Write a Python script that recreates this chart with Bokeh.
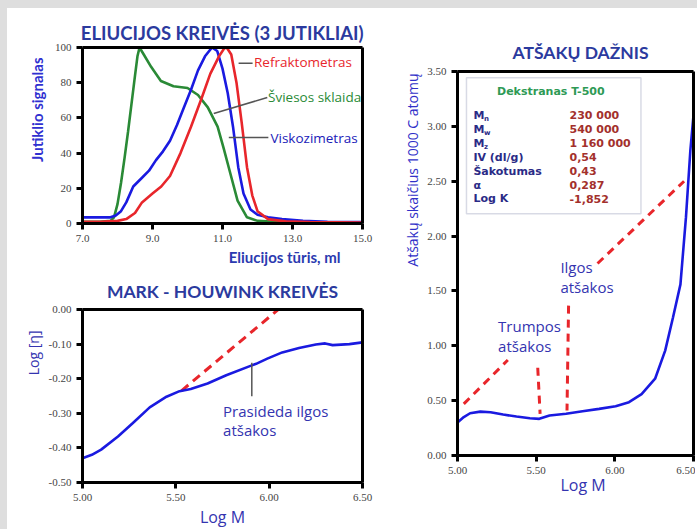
import math
from bokeh.plotting import figure
from bokeh.models import (Range1d, FixedTicker, Label, BoxAnnotation,
                          ColumnDataSource, Title, LinearAxis)
from bokeh.layouts import row, column
from bokeh.embed import file_html
from bokeh.resources import INLINE
from bokeh.core.properties import value

# ---------------- DATA ----------------
# Chart 1: elution curves (3 detectors)
elu_xticks = [7, 9, 11, 13, 15]
elu_xtick_labels = ["7.0", "9.0", "11.0", "13.0", "15.0"]
elu_yticks = [0, 20, 40, 60, 80, 100]
elu_ytick_labels = ["0", "20", "40", "60", "80", "100"]

green_x = [7.0, 7.5, 7.8, 7.9, 8.0, 8.1, 8.2, 8.3, 8.4, 8.5, 8.57, 8.63, 8.75,
           8.96, 9.24, 9.6, 10.0, 10.3, 10.58, 10.86, 11.03, 11.23, 11.43,
           11.7, 12.0, 12.5, 13.5, 15.0]
green_y = [1.0, 1.0, 1.5, 3.5, 11, 23, 37, 52, 68, 84, 95, 100, 96,
           89, 81, 78, 77, 73, 66, 55, 43, 28, 13,
           3.5, 1.5, 1.0, 0.8, 0.6]

blue_x = [7.0, 7.5, 7.8, 7.95, 8.1, 8.25, 8.45, 8.7, 8.9, 9.1, 9.3, 9.5, 9.7,
          9.9, 10.1, 10.3, 10.5, 10.7, 10.85, 11.0, 11.15, 11.3, 11.45, 11.6,
          11.8, 12.0, 12.3, 12.7, 13.3, 14.0, 15.0]
blue_y = [3.5, 3.5, 3.5, 4.5, 7, 12, 21, 26, 30, 36, 41, 47, 56,
          66, 76, 87, 95, 100, 98, 88, 74, 55, 32, 17,
          8, 5, 3.5, 2.5, 1.5, 1.0, 0.8]

red_x = [7.0, 7.5, 8.0, 8.25, 8.5, 8.7, 9.0, 9.25, 9.5, 9.8, 10.1, 10.4,
         10.65, 10.9, 11.05, 11.12, 11.25, 11.4, 11.55, 11.7, 11.85, 12.0,
         12.3, 12.8, 13.5, 15.0]
red_y = [1.0, 1.0, 1.5, 2.5, 6, 12, 17, 21, 27, 40, 55, 71,
         85, 95, 99.5, 100, 96, 80, 57, 32, 16, 7,
         2.5, 1.2, 0.8, 0.5]

# Chart 2: Mark-Houwink
mh_xticks = [5.0, 5.5, 6.0, 6.5]
mh_xtick_labels = ["5.00", "5.50", "6.00", "6.50"]
mh_yticks = [0.0, -0.1, -0.2, -0.3, -0.4, -0.5]
mh_ytick_labels = ["0.00", "-0.10", "-0.20", "-0.30", "-0.40", "-0.50"]
mh_x = [5.0, 5.05, 5.1, 5.19, 5.27, 5.36, 5.45, 5.52, 5.58, 5.67, 5.77, 5.9,
        5.93, 5.99, 6.07, 6.16, 6.25, 6.3, 6.34, 6.43, 6.5]
mh_y = [-0.43, -0.42, -0.405, -0.367, -0.328, -0.283, -0.252, -0.236, -0.23,
        -0.214, -0.19, -0.163, -0.157, -0.142, -0.124, -0.111, -0.101, -0.098,
        -0.103, -0.100, -0.095]
mh_lin_x = [5.53, 6.06]
mh_lin_y = [-0.235, 0.005]

# Chart 3: branching frequency
br_xticks = [5.0, 5.5, 6.0, 6.5]
br_xtick_labels = ["5.00", "5.50", "6.00", "6.50"]
br_yticks = [0.0, 0.5, 1.0, 1.5, 2.0, 2.5, 3.0, 3.5]
br_ytick_labels = ["0.00", "0.50", "1.00", "1.50", "2.00", "2.50", "3.00", "3.50"]
br_x = [5.0, 5.04, 5.08, 5.145, 5.21, 5.29, 5.375, 5.46, 5.52, 5.585, 5.69,
        5.795, 5.9, 6.005, 6.09, 6.17, 6.256, 6.32, 6.37, 6.417, 6.452, 6.48,
        6.5]
br_y = [0.30, 0.35, 0.385, 0.40, 0.394, 0.373, 0.355, 0.34, 0.334, 0.364,
        0.38, 0.404, 0.425, 0.449, 0.486, 0.56, 0.70, 0.956, 1.26, 1.56, 2.17,
        2.78, 3.1]
br_short_x = [5.04, 5.32]
br_short_y = [0.47, 0.87]
br_long_x = [5.89, 6.44]
br_long_y = [1.75, 2.50]
br_v1_x = [5.51, 5.525]
br_v1_y = [0.80, 0.38]
br_v2_x = [5.706, 5.696]
br_v2_y = [1.366, 0.41]

info_title = "Dekstranas T-500"
info_names = ["M", "M", "M", "IV (dl/g)", "Šakotumas", "α", "Log K"]
info_subs = ["n", "w", "z"]
info_values = ["230 000", "540 000", "1 160 000", "0,54", "0,43", "0,287", "-1,852"]

# ---------------- STYLE ----------------
TITLE_FONT = "Lato"
TITLE_COLOR = "#2b3a9e"
BLUE = "#1a1ae0"
RED = "#e8262b"
GREEN = "#2a8a36"
TEXT_BLUE = "#3434b0"


def frame_axis(p, side):
    ax = LinearAxis(ticker=FixedTicker(ticks=[]), axis_line_width=3,
                    axis_line_color="black", major_tick_line_color=None,
                    minor_tick_line_color=None, major_label_standoff=0,
                    major_tick_out=0, major_tick_in=0,
                    major_label_text_font_size="0px")
    p.add_layout(ax, side)


def style(p, xticks, xlabels, yticks, ylabels):
    p.outline_line_color = None
    p.grid.visible = False
    p.background_fill_color = "white"
    p.border_fill_color = None
    p.xaxis.ticker = FixedTicker(ticks=xticks)
    p.yaxis.ticker = FixedTicker(ticks=yticks)
    p.xaxis.major_label_overrides = {t: l for t, l in zip(xticks, xlabels)}
    p.yaxis.major_label_overrides = {t: l for t, l in zip(yticks, ylabels)}
    for ax in p.axis:
        ax.axis_line_width = 3
        ax.axis_line_color = "black"
        ax.major_tick_line_width = 3
        ax.major_tick_line_color = "black"
        ax.major_tick_out = 6
        ax.major_tick_in = 0
        ax.minor_tick_line_color = None
        ax.major_label_text_font = "Liberation Serif"
        ax.major_label_text_font_size = "11px"
        ax.major_label_text_color = "#444444"
        ax.major_label_standoff = 5
    frame_axis(p, "above")
    frame_axis(p, "right")


def set_title(p, text, size="18px", align="center", offset=0, standoff=4):
    p.title.text = text
    p.title.align = align
    p.title.offset = offset
    p.title.standoff = standoff
    p.title.text_font = TITLE_FONT
    p.title.text_font_size = size
    p.title.text_font_style = "bold"
    p.title.text_color = TITLE_COLOR


def side_title(p, side, text, size, color, font="Open Sans", style_="normal",
               align="center", offset=0, standoff=4):
    p.add_layout(Title(text=text, align=align, offset=offset, standoff=standoff,
                       text_font=font, text_font_size=size, text_color=color,
                       text_font_style=style_), side)


def lab(p, x, y, text, size, color, font="Open Sans", style_="normal",
        align="left"):
    p.add_layout(Label(x=x, y=y, text=text, text_font=font,
                       text_font_size=size, text_color=color,
                       text_font_style=style_, text_align=align,
                       text_baseline="middle"))


# ---------------- CHART 1 ----------------
p1 = figure(width=395, height=270, output_backend="svg", toolbar_location=None,
            x_range=Range1d(7, 15), y_range=Range1d(0, 100),
            min_border_left=81, min_border_right=33, min_border_top=47,
            min_border_bottom=47)
style(p1, elu_xticks, elu_xtick_labels, elu_yticks, elu_ytick_labels)
set_title(p1, "ELIUCIJOS KREIVĖS (3 JUTIKLIAI)", size="18.5px", standoff=7)
side_title(p1, "left", "Jutiklio signalas", "15px", "#3030d0", font=TITLE_FONT,
           style_="bold", align="right", offset=10, standoff=12)
side_title(p1, "below", "Eliucijos tūris, ml", "15px", "#2b3ab0",
           font=TITLE_FONT, style_="bold", align="right", offset=22, standoff=2)
p1.line(green_x, green_y, line_color=GREEN, line_width=2.6)
p1.line(blue_x, blue_y, line_color=BLUE, line_width=2.6)
p1.line(red_x, red_y, line_color=RED, line_width=2.6)
# leader lines
p1.line([11.46, 11.86], [91, 91], line_color="#555555", line_width=1.5)
p1.line([10.75, 12.28], [62.5, 71.6], line_color="#555555", line_width=1.5)
p1.line([11.18, 12.31], [48.9, 48.9], line_color="#555555", line_width=1.5)
lab(p1, 11.9, 91.5, "Refraktometras", "13.5px", RED)
lab(p1, 12.3, 72, "Šviesos sklaida", "13.5px", GREEN)
lab(p1, 12.37, 48.6, "Viskozimetras", "13.5px", "#2020b8")

# ---------------- CHART 2 ----------------
p2 = figure(width=395, height=257, output_backend="svg", toolbar_location=None,
            x_range=Range1d(5.0, 6.5), y_range=Range1d(-0.5, 0.0),
            min_border_left=82, min_border_right=32, min_border_top=39,
            min_border_bottom=43)
style(p2, mh_xticks, mh_xtick_labels, mh_yticks, mh_ytick_labels)
set_title(p2, "MARK - HOUWINK KREIVĖS", size="17.5px", standoff=16)
side_title(p2, "left", "Log [η]", "14px", TEXT_BLUE, align="right", offset=21,
           standoff=6)
side_title(p2, "below", "Log M", "16px", TEXT_BLUE, standoff=0)
p2.line(mh_lin_x, mh_lin_y, line_color=RED, line_width=3, line_dash="9 6")
p2.line(mh_x, mh_y, line_color=BLUE, line_width=2.6)
p2.line([5.907, 5.907], [-0.154, -0.251], line_color="#555555", line_width=1.5)
lab(p2, 5.753, -0.292, "Prasideda ilgos", "15px", TEXT_BLUE)
lab(p2, 5.753, -0.349, "atšakos", "15px", TEXT_BLUE)

# ---------------- CHART 3 ----------------
p3 = figure(width=300, height=527, output_backend="svg", toolbar_location=None,
            x_range=Range1d(5.0, 6.5), y_range=Range1d(0.0, 3.5),
            min_border_left=62, min_border_right=2, min_border_top=71,
            min_border_bottom=72)
style(p3, br_xticks, br_xtick_labels, br_yticks, br_ytick_labels)
set_title(p3, "ATŠAKŲ DAŽNIS", size="17.5px", align="left", offset=55,
          standoff=18)
side_title(p3, "left", "Atšakų skaičius 1000 C atomų", "14px", "#3030c8",
           align="right", offset=2, standoff=5)
side_title(p3, "below", "Log M", "16px", TEXT_BLUE, align="left", offset=103,
           standoff=-9)
for xs, ys in [(br_short_x, br_short_y), (br_long_x, br_long_y),
               (br_v1_x, br_v1_y), (br_v2_x, br_v2_y)]:
    p3.line(xs, ys, line_color=RED, line_width=3, line_dash="8 6")
p3.line(br_x, br_y, line_color=BLUE, line_width=2.6)

# info box
p3.add_layout(BoxAnnotation(left=5.057, right=6.166, top=3.443, bottom=2.204,
                            fill_color="white", fill_alpha=1.0,
                            line_color="#7d86a8", line_width=1.5,
                            level="underlay"))
row_top, row_step = 3.097, 0.1265
name_x, value_x = 5.101, 5.712
rows_y = [row_top - i * row_step for i in range(len(info_names))]
src_names = ColumnDataSource(dict(x=[name_x] * len(info_names), y=rows_y,
                                  t=info_names))
src_vals = ColumnDataSource(dict(x=[value_x] * len(info_values), y=rows_y,
                                 t=info_values))
src_subs = ColumnDataSource(dict(x=[name_x + 0.068] * len(info_subs),
                                 y=[rows_y[i] - 0.03 for i in range(len(info_subs))],
                                 t=info_subs))
p3.text(x="x", y="y", text="t", source=src_names, text_font=value("DejaVu Sans"),
        text_font_size="11px", text_font_style="bold", text_color="#2a2a86",
        text_baseline="middle", text_align="left")
p3.text(x="x", y="y", text="t", source=src_subs, text_font=value("DejaVu Sans"),
        text_font_size="7px", text_font_style="bold", text_color="#2a2a86",
        text_baseline="middle", text_align="left")
p3.text(x="x", y="y", text="t", source=src_vals, text_font=value("DejaVu Sans"),
        text_font_size="11px", text_font_style="bold", text_color="#a3302c",
        text_baseline="middle", text_align="left")
lab(p3, 5.593, 3.315, info_title, "11px", "#2e9a55", font="DejaVu Sans",
    style_="bold", align="center")

lab(p3, 5.258, 1.184, "Trumpos", "15px", TEXT_BLUE)
lab(p3, 5.258, 1.0, "atšakos", "15px", TEXT_BLUE)
lab(p3, 5.654, 1.72, "Ilgos", "15px", TEXT_BLUE)
lab(p3, 5.654, 1.54, "atšakos", "15px", TEXT_BLUE)

layout = row(column(p1, p2), p3)

html = file_html(layout, INLINE, title="Dekstranas")
css = ("<style>html{background:linear-gradient(#dedede 8px, transparent 8px),"
       "linear-gradient(to right, #dedede 7px, #ffffff 7px);"
       "background-repeat:no-repeat;min-height:100%;}</style>")
html = html.replace("<head>", "<head>" + css, 1)
open("out.html", "w").write(html)
